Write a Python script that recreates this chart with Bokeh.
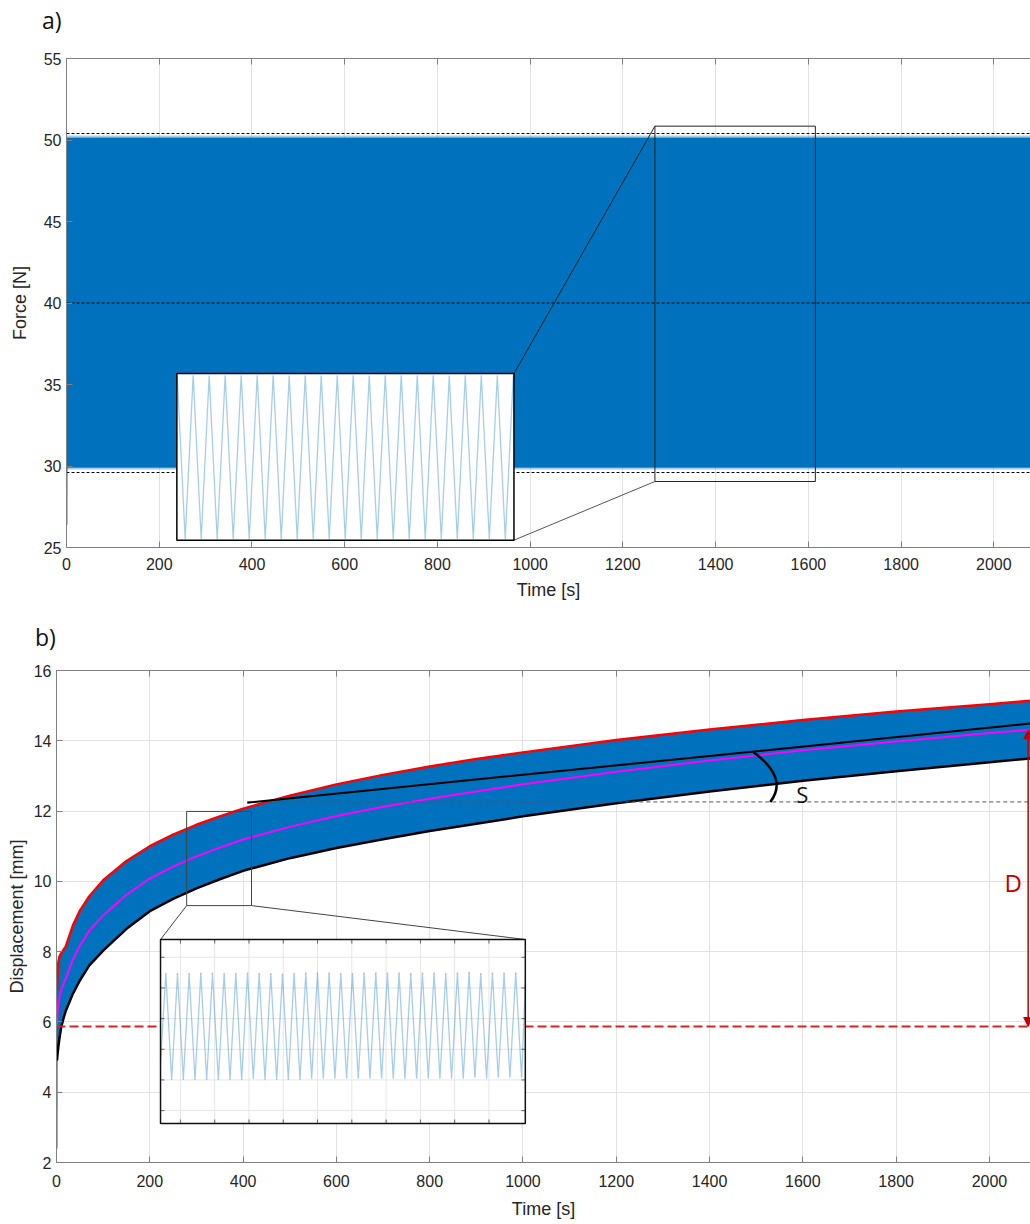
from bokeh.plotting import figure
from bokeh.layouts import column
from bokeh.models import Range1d, LinearAxis, FixedTicker, Arrow, NormalHead, Label, Div
from bokeh.embed import file_html
from bokeh.resources import INLINE

BLUE = "#0072BD"

# ---------------- panel a data ----------------
force_band_t = [0.6, 2090]
force_band_max = [50.15, 50.15]
force_band_min = [29.9, 29.9]
force_ramp_t = [1.0, 1.3]
force_ramp_v = [26.4, 30.0]
force_ref_levels = [50.4, 40.0, 29.6]
force_xticks = [0, 200, 400, 600, 800, 1000, 1200, 1400, 1600, 1800, 2000]
force_yticks = [25, 30, 35, 40, 45, 50, 55]

# zoomed window of panel a (inset): cycle extremes
inset_a_peaks = [50.10, 50.08, 50.05, 50.08, 50.10, 50.10, 50.10, 50.05, 50.05, 50.05, 50.10,
                 50.10, 50.06, 50.10, 50.08, 50.08, 50.08, 50.05, 50.10, 50.10, 50.08, 50.07]
inset_a_troughs = [29.88, 29.90, 29.86, 29.90, 29.88, 29.90, 29.87, 29.90, 29.89, 29.88, 29.90,
                   29.86, 29.90, 29.88, 29.90, 29.87, 29.89, 29.90, 29.88, 29.90, 29.87]
inset_a_first_peak = 1400.02
inset_a_period = 1.0
inset_a_xlim = (1400.0, 1421.06)
inset_a_ylim = (29.75, 50.3)

# ---------------- panel b data ----------------
disp_t = [1, 2, 4, 6, 10, 15, 20, 35, 50, 70, 100, 150, 200, 250, 300, 350, 400, 500, 600, 700,
          800, 900, 1000, 1200, 1400, 1600, 1800, 2000, 2090]
disp_max = [6.9, 7.3, 7.7, 7.85, 7.95, 8.05, 8.15, 8.74, 9.16, 9.57, 10.03, 10.58, 11.0, 11.33,
            11.61, 11.85, 12.07, 12.44, 12.76, 13.03, 13.27, 13.48, 13.67, 14.02, 14.32, 14.59,
            14.83, 15.04, 15.14]
disp_min = [4.9, 5.05, 5.3, 5.5, 5.85, 6.1, 6.32, 6.8, 7.18, 7.6, 8.03, 8.65, 9.15, 9.5, 9.8,
            10.06, 10.3, 10.66, 10.95, 11.2, 11.43, 11.64, 11.85, 12.22, 12.56, 12.86, 13.13,
            13.39, 13.5]
disp_mean = [5.9, 6.18, 6.5, 6.68, 6.9, 7.08, 7.24, 7.77, 8.17, 8.59, 9.03, 9.62, 10.08, 10.42,
             10.71, 10.96, 11.19, 11.55, 11.86, 12.12, 12.35, 12.56, 12.76, 13.12, 13.44, 13.73,
             13.98, 14.22, 14.32]
disp_ramp_t = [1.0, 1.3]
disp_ramp_v = [2.4, 4.9]
fit_t = [409, 2088]
fit_v = [12.24, 14.49]
slope_ref_level = 12.26
d0_level = 5.87
d_top = 14.31
d_time = 2083
disp_xticks = [0, 200, 400, 600, 800, 1000, 1200, 1400, 1600, 1800, 2000]
disp_yticks = [2, 4, 6, 8, 10, 12, 14, 16]

inset_b_peaks = [11.73, 11.73, 11.73, 11.735, 11.735, 11.73, 11.73, 11.74, 11.73, 11.73, 11.72,
                 11.73, 11.74, 11.74, 11.74, 11.73, 11.73, 11.74, 11.74, 11.74, 11.74, 11.73,
                 11.74, 11.74, 11.73, 11.74, 11.75, 11.73, 11.74, 11.74, 11.74]
inset_b_troughs = [10.0, 10.0, 10.0, 10.0, 10.0, 10.0, 10.0, 10.015, 10.0, 10.0, 10.0,
                   10.0, 10.015, 10.02, 10.02, 10.02, 10.02, 10.02, 10.02, 10.02, 10.015, 10.02,
                   10.02, 10.02, 10.02, 10.02, 10.035, 10.02, 10.035, 10.035, 10.035]
inset_b_start_v = 10.3
inset_b_end_v = 11.55
inset_b_first_peak = 330.575
inset_b_period = 0.3402
inset_b_xlim = (330.42, 341.06)
inset_b_ylim = (9.29, 12.29)
inset_b_xgrid = [331, 332, 333, 334, 335, 336, 337, 338, 339, 340]
inset_b_ygrid = [9.5, 10.0, 10.5, 11.0, 11.5, 12.0]

# ---------------- placement (layout) ----------------
A_XMAX = 2079
B_XMAX = 2088
INSET_A_BOX = (238, 965, 25.45, 35.67)
ZOOM_A_BOX = (1269, 1615, 29.05, 50.85)
INSET_B_BOX = (223, 1005, 3.11, 8.345)
ZOOM_B_BOX = (279, 418, 9.31, 11.99)


def mapper(xlim, ylim, box):
    x0, x1, y0, y1 = box
    def f(xs, ys):
        X = [x0 + (x - xlim[0]) / (xlim[1] - xlim[0]) * (x1 - x0) for x in xs]
        Y = [y0 + (y - ylim[0]) / (ylim[1] - ylim[0]) * (y1 - y0) for y in ys]
        return X, Y
    return f


def panel_tag(text, height, indent):
    return Div(text=text, width=120, height=height, margin=(0, 0, 0, 0),
               styles={"font-family": "Open Sans", "font-size": "23px", "color": "#111111",
                       "line-height": f"{height}px", "text-indent": f"{indent}px"})


def make_fig(xmax, ylo, yhi, xticks, yticks, ylabel, mbl, mbt, mbb, height,
             xl_stand, xt_stand, yl_stand):
    p = figure(width=1030, height=height, x_range=Range1d(0, xmax), y_range=Range1d(ylo, yhi),
               output_backend="svg", toolbar_location=None,
               min_border_left=mbl, min_border_right=0, min_border_top=mbt, min_border_bottom=mbb)
    p.outline_line_color = None
    bottom = p.below[0]
    left = p.left[0]
    top = LinearAxis()
    p.add_layout(top, "above")
    for ax in (bottom, left, top):
        ax.axis_line_color = "#808080"
        ax.major_tick_line_color = "#808080"
        ax.major_tick_in = 6
        ax.major_tick_out = 0
        ax.minor_tick_line_color = None
        ax.major_label_text_font = "Liberation Sans"
        ax.major_label_text_font_size = "16px"
        ax.major_label_text_color = "#262626"
        ax.axis_label_text_font = "Liberation Sans"
        ax.axis_label_text_font_size = "18px"
        ax.axis_label_text_font_style = "normal"
        ax.axis_label_text_color = "#262626"
    top.ticker = FixedTicker(ticks=xticks)
    top.major_label_text_color = None
    top.major_label_standoff = 0
    bottom.ticker = FixedTicker(ticks=xticks)
    bottom.major_label_standoff = xt_stand
    left.ticker = FixedTicker(ticks=yticks)
    bottom.axis_label = "Time [s]"
    bottom.axis_label_standoff = xl_stand
    left.axis_label = ylabel
    left.axis_label_standoff = yl_stand
    p.xgrid.ticker = FixedTicker(ticks=xticks)
    p.ygrid.ticker = FixedTicker(ticks=yticks)
    p.grid.grid_line_color = "#e2e2e2"
    p.grid.grid_line_width = 1
    return p


# ================= panel a =================
tag_a = panel_tag("a)", 40, 42)
pa = make_fig(A_XMAX, 25, 55, force_xticks, force_yticks, "Force [N]", 66, 18, 67, 574, 7, 10, 11)
pa.varea(x=force_band_t, y1=force_band_min, y2=force_band_max, fill_color=BLUE)
pa.varea(x=force_band_t, y1=force_band_max, y2=[v + 0.12 for v in force_band_max],
         fill_color=BLUE, fill_alpha=0.35)
pa.varea(x=force_band_t, y1=[v - 0.12 for v in force_band_min], y2=force_band_min,
         fill_color=BLUE, fill_alpha=0.35)
pa.line(force_ramp_t, force_ramp_v, line_color=BLUE, line_alpha=0.6, line_width=1.5)
for lvl in force_ref_levels:
    pa.line([0, A_XMAX], [lvl, lvl], line_color="black", line_dash="3 2", line_width=1)

zx0, zx1, zy0, zy1 = ZOOM_A_BOX
ix0, ix1, iy0, iy1 = INSET_A_BOX
pa.quad(left=[zx0], right=[zx1], bottom=[zy0], top=[zy1], fill_color=None,
        line_color="#222222", line_width=1)
pa.line([ix1, zx0], [iy1, zy1], line_color="#222222", line_width=1)
pa.line([ix1, zx0], [iy0, zy0], line_color="#555555", line_width=1)
pa.quad(left=[ix0], right=[ix1], bottom=[iy0], top=[iy1], fill_color="white",
        line_color=None)
wave_t, wave_v = [], []
for k, pk in enumerate(inset_a_peaks):
    wave_t.append(inset_a_first_peak + k * inset_a_period)
    wave_v.append(pk)
    if k < len(inset_a_troughs):
        wave_t.append(inset_a_first_peak + (k + 0.5) * inset_a_period)
        wave_v.append(inset_a_troughs[k])
fa = mapper(inset_a_xlim, inset_a_ylim, INSET_A_BOX)
X, Y = fa(wave_t, wave_v)
pa.line(X, Y, line_color=BLUE, line_alpha=0.35, line_width=1.3)
pa.quad(left=[ix0], right=[ix1], bottom=[iy0], top=[iy1], fill_color=None,
        line_color="black", line_width=1.5)

# ================= panel b =================
tag_b = panel_tag("b)", 46, 35)
pb = make_fig(B_XMAX, 2, 16, disp_xticks, disp_yticks, "Displacement [mm]", 56, 10, 62, 564,
              9, 12, 4)
ppx = 974 / B_XMAX
ppy = 492 / 14
pb.varea(x=disp_t, y1=disp_min, y2=disp_max, fill_color=BLUE)
pb.line(disp_ramp_t, disp_ramp_v, line_color=BLUE, line_alpha=0.7, line_width=1.5)
pb.line(disp_t, disp_max, line_color="#FF0000", line_width=2.5, line_join="round")
pb.line(disp_t, disp_min, line_color="black", line_width=2.5, line_join="round")
pb.line(disp_t, disp_mean, line_color="#FF00FF", line_width=2, line_join="round")
pb.line([0, B_XMAX], [d0_level, d0_level], line_color="#D42424", line_dash="9 4", line_width=2)
pb.line([fit_t[0], B_XMAX], [slope_ref_level, slope_ref_level], line_color="#555555",
        line_dash="4 3", line_width=1)
pb.line(fit_t, fit_v, line_color="black", line_width=2)
pb.quadratic(x0=[1494], y0=[13.68], x1=[1530], y1=[slope_ref_level], cx=[1570], cy=[12.93],
             line_color="black", line_width=2.5)
pb.add_layout(Label(x=1599, y=12.5, text="S", text_font="Open Sans", text_font_size="22px",
                    text_align="center", text_baseline="middle", text_color="#111111"))
pb.add_layout(Arrow(start=NormalHead(size=9, fill_color="#C00000", line_color="#C00000"),
                    end=NormalHead(size=9, fill_color="#C00000", line_color="#C00000"),
                    x_start=d_time, y_start=d_top, x_end=d_time, y_end=d0_level,
                    line_color="#C00000", line_width=1.5))
pb.add_layout(Label(x=2051, y=9.97, text="D", text_font="Open Sans", text_font_size="24px",
                    text_align="center", text_baseline="middle", text_color="#C00000"))

zx0, zx1, zy0, zy1 = ZOOM_B_BOX
ix0, ix1, iy0, iy1 = INSET_B_BOX
pb.quad(left=[zx0], right=[zx1], bottom=[zy0], top=[zy1], fill_color=None,
        line_color="#444444", line_width=1)
pb.line([zx0, ix0], [zy0, iy1], line_color="#444444", line_width=1)
pb.line([zx1, ix1], [zy0, iy1], line_color="#444444", line_width=1)
pb.quad(left=[ix0], right=[ix1], bottom=[iy0], top=[iy1], fill_color="white", line_color=None)
fb = mapper(inset_b_xlim, inset_b_ylim, INSET_B_BOX)
for gx in inset_b_xgrid:
    X, Y = fb([gx, gx], [inset_b_ylim[0], inset_b_ylim[1]])
    pb.line(X, Y, line_color="#e6e6e6", line_width=1)
for gy in inset_b_ygrid:
    X, Y = fb([inset_b_xlim[0], inset_b_xlim[1]], [gy, gy])
    pb.line(X, Y, line_color="#e6e6e6", line_width=1)
# inset tick marks
tl_x = 4 / ppx
tl_y = 4 / ppy
for gx in inset_b_xgrid:
    X, _ = fb([gx], [0])
    pb.segment(x0=[X[0], X[0]], y0=[iy0, iy1], x1=[X[0], X[0]], y1=[iy0 + tl_y, iy1 - tl_y],
               line_color="#666666", line_width=1)
for gy in inset_b_ygrid:
    _, Y = fb([0], [gy])
    pb.segment(x0=[ix0, ix1], y0=[Y[0], Y[0]], x1=[ix0 + tl_x, ix1 - tl_x], y1=[Y[0], Y[0]],
               line_color="#666666", line_width=1)
wave_t, wave_v = [inset_b_xlim[0]], [inset_b_start_v]
for k, pk in enumerate(inset_b_peaks):
    wave_t.append(inset_b_first_peak + k * inset_b_period)
    wave_v.append(pk)
    wave_t.append(inset_b_first_peak + (k + 0.5) * inset_b_period)
    wave_v.append(inset_b_troughs[k])
wave_t.append(inset_b_xlim[1])
wave_v.append(inset_b_end_v)
X, Y = fb(wave_t, wave_v)
pb.line(X, Y, line_color=BLUE, line_alpha=0.35, line_width=1.3)
PX, PY = fb(wave_t[1::2], wave_v[1::2])
pb.scatter(PX, PY, size=2, fill_color="#FF6060", line_color=None, fill_alpha=0.4)
pb.quad(left=[ix0], right=[ix1], bottom=[iy0], top=[iy1], fill_color=None,
        line_color="#111111", line_width=1.5)

col_a = column(tag_a, pa, spacing=0)
col_b = column(tag_b, pb, spacing=0)
open("out.html", "w").write(file_html([col_a, col_b], INLINE))
